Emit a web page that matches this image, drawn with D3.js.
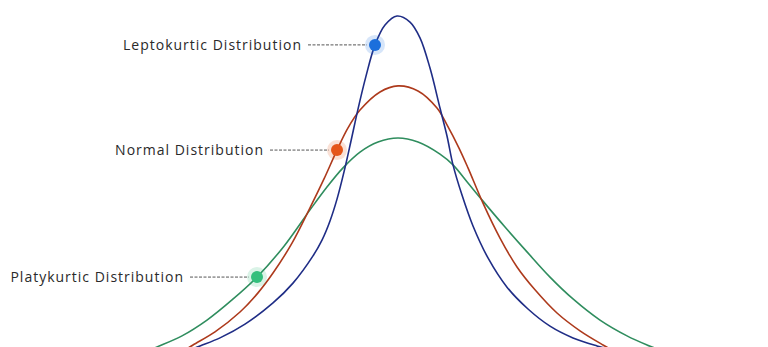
<!DOCTYPE html>
<html>
<head>
<meta charset="utf-8">
<script src="https://cdn.jsdelivr.net/npm/d3@7"></script>
<style>
  html, body { margin: 0; padding: 0; background: #ffffff; }
  svg { display: block; }
</style>
</head>
<body>
<script>
// ---- data (x in spread units, y relative density) ----
const names = ["Leptokurtic Distribution", "Normal Distribution", "Platykurtic Distribution"];

const leptoX = [-4.14, -3.94, -3.54, -3.04, -2.48, -2.08, -1.68, -1.50, -1.34, -1.20, -1.06, -0.92, -0.78, -0.62, -0.44, -0.24, 0.00, 0.26, 0.46, 0.66, 0.86, 1.00, 1.12, 1.30, 1.52, 1.82, 2.20, 2.62, 3.06, 3.52, 4.00, 4.30];
const leptoY = [0.006, 0.018, 0.042, 0.083, 0.146, 0.205, 0.286, 0.333, 0.390, 0.455, 0.536, 0.628, 0.723, 0.821, 0.914, 0.973, 1.000, 0.982, 0.935, 0.845, 0.726, 0.643, 0.557, 0.467, 0.375, 0.280, 0.193, 0.128, 0.077, 0.042, 0.018, 0.006];

const normalX = [-4.24, -4.08, -3.64, -3.14, -2.78, -2.48, -2.10, -1.74, -1.46, -1.20, -0.98, -0.74, -0.34, 0.02, 0.42, 0.80, 1.00, 1.24, 1.42, 1.72, 2.06, 2.40, 2.76, 3.20, 3.66, 4.12, 4.30];
const normalY = [0.006, 0.021, 0.060, 0.119, 0.176, 0.235, 0.324, 0.429, 0.515, 0.601, 0.667, 0.720, 0.774, 0.792, 0.777, 0.726, 0.676, 0.607, 0.548, 0.443, 0.339, 0.253, 0.185, 0.116, 0.063, 0.021, 0.006];

const platyX = [-4.94, -4.80, -4.30, -3.80, -3.30, -2.80, -2.26, -1.74, -1.40, -1.08, -0.74, -0.38, 0.02, 0.42, 0.86, 1.12, 1.42, 1.72, 2.16, 2.60, 3.06, 3.52, 4.06, 4.60, 5.00, 5.26];
const platyY = [0.006, 0.015, 0.048, 0.095, 0.155, 0.223, 0.315, 0.423, 0.491, 0.548, 0.595, 0.625, 0.637, 0.625, 0.589, 0.557, 0.503, 0.449, 0.372, 0.298, 0.223, 0.158, 0.095, 0.048, 0.021, 0.006];

// marker points on each curve
const markerX = [-0.44, -1.20, -2.80];
const markerY = [0.914, 0.601, 0.223];

// ---- styles ----
const lineColors = ["#1f2d86", "#ad3a1c", "#2f8d5e"];
const dotColors  = ["#1b6fdc", "#e5561a", "#33bf7c"];

const W = 768, H = 347;
const svg = d3.select("body").append("svg").attr("width", W).attr("height", H);

const x = d3.scaleLinear().domain([-5, 5]).range([147, 647]);
const y = d3.scaleLinear().domain([0, 1]).range([352, 16]);

const series = [
  leptoX.map((v, i) => [v, leptoY[i]]),
  normalX.map((v, i) => [v, normalY[i]]),
  platyX.map((v, i) => [v, platyY[i]])
];

const line = d3.line()
  .x(d => x(d[0]))
  .y(d => y(d[1]))
  .curve(d3.curveCatmullRom.alpha(0.5));

// draw platy first, then normal, then lepto on top
[2, 1, 0].forEach(i => {
  svg.append("path")
    .attr("d", line(series[i]))
    .attr("fill", "none")
    .attr("stroke", lineColors[i])
    .attr("stroke-width", 1.6);
});

// labels, leader lines, markers
names.forEach((name, i) => {
  const cx = x(markerX[i]), cy = y(markerY[i]);
  svg.append("line")
    .attr("x1", cx - 67).attr("x2", cx - 8)
    .attr("y1", cy).attr("y2", cy)
    .attr("stroke", "#555")
    .attr("stroke-width", 1)
    .attr("stroke-dasharray", "3,1.5");
  svg.append("text")
    .attr("x", cx - 73)
    .attr("y", cy)
    .attr("dy", "0.35em")
    .attr("text-anchor", "end")
    .attr("font-family", "'Open Sans', sans-serif")
    .attr("font-size", 14)
    .attr("letter-spacing", 1.0)
    .attr("fill", "#2a2a2a")
    .text(name);
  svg.append("circle")
    .attr("cx", cx).attr("cy", cy).attr("r", 10)
    .attr("fill", dotColors[i]).attr("opacity", 0.18);
  svg.append("circle")
    .attr("cx", cx).attr("cy", cy).attr("r", 6)
    .attr("fill", dotColors[i]);
});
</script>
</body>
</html>
